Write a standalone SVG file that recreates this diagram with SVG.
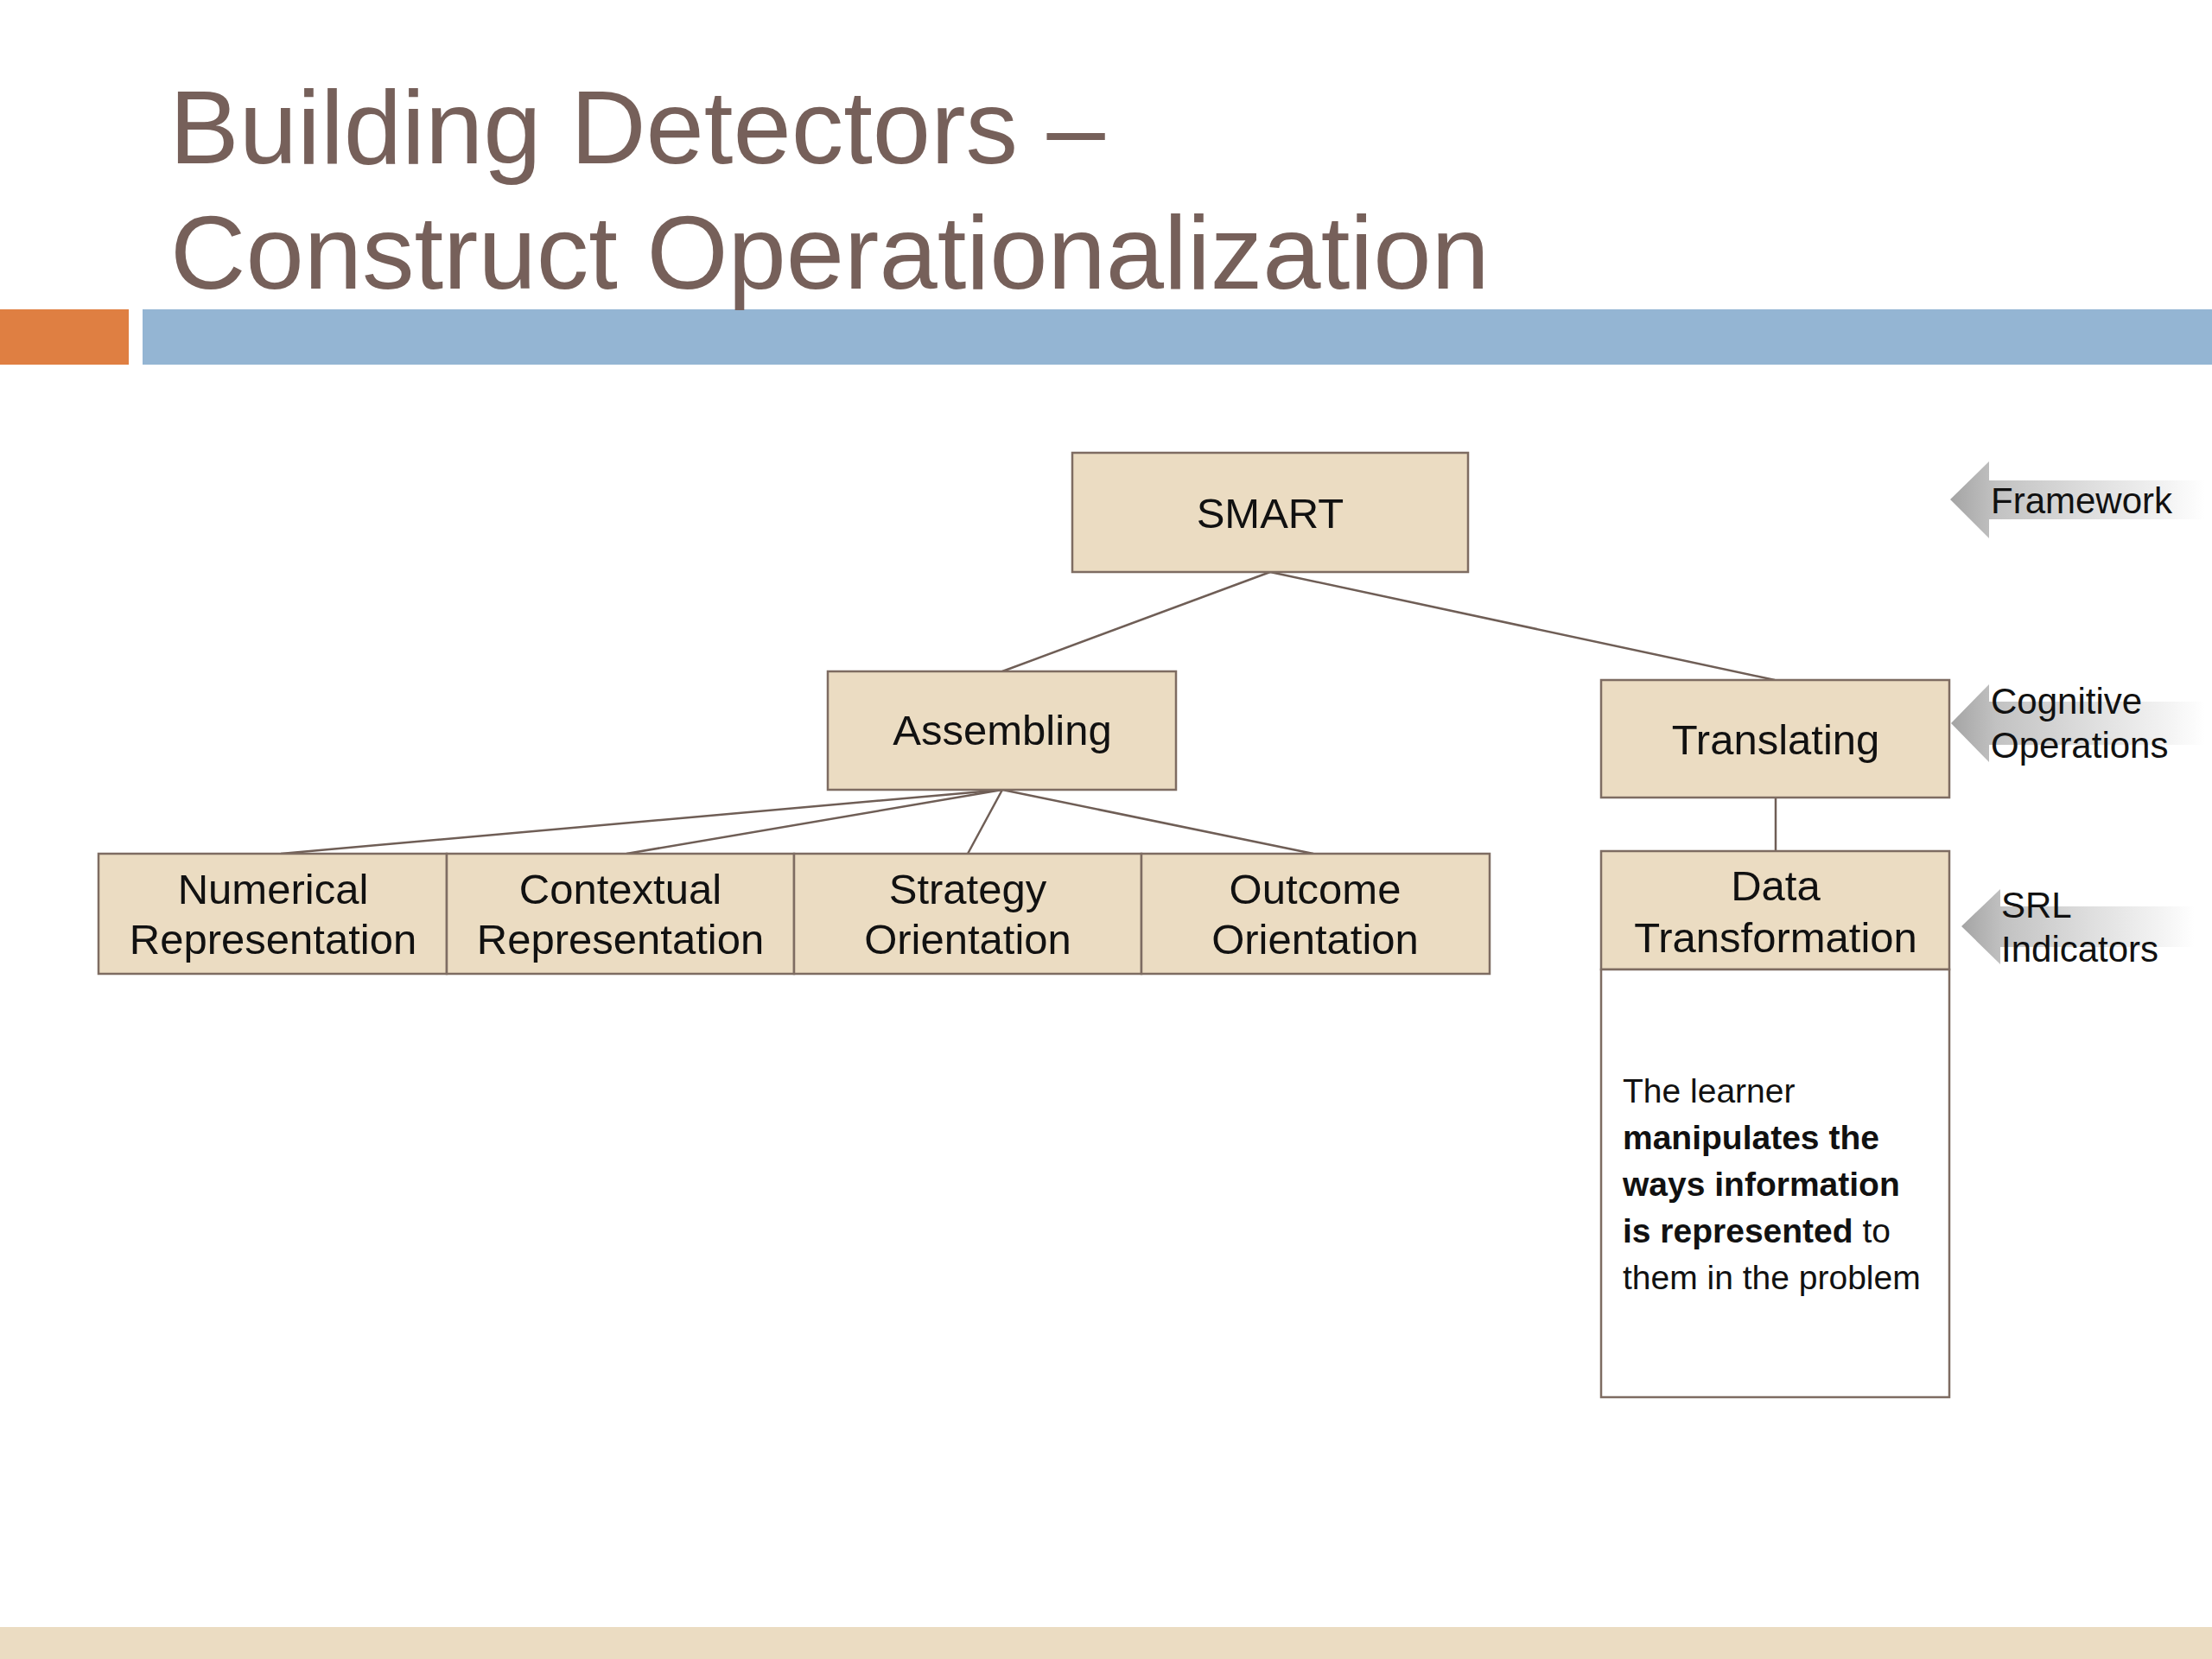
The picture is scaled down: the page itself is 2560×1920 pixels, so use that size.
<svg xmlns="http://www.w3.org/2000/svg" width="2560" height="1920" viewBox="0 0 2560 1920">
<defs>
<style>
.title{font-family:"Liberation Sans",Arial,sans-serif;font-size:121px;fill:#76605A}
.node rect{fill:#EBDCC2;stroke:#7E6C62;stroke-width:2.5}
.lbl{font-family:"Liberation Sans",Arial,sans-serif;font-size:49px;fill:#111;text-anchor:middle}
.side{font-family:"Liberation Sans",Arial,sans-serif;font-size:42px;fill:#111}
.desc{font-family:"Liberation Sans",Arial,sans-serif;font-size:39px;fill:#111}
.conn line{stroke:#6F5E56;stroke-width:2.5}
</style>
<linearGradient id="arr" x1="0" y1="0" x2="1" y2="0">
<stop offset="0" stop-color="#A4A4A4"/>
<stop offset="0.18" stop-color="#C2C2C2"/>
<stop offset="0.55" stop-color="#DEDEDE"/>
<stop offset="0.85" stop-color="#F3F3F3"/>
<stop offset="1" stop-color="#FFFFFF"/>
</linearGradient>
</defs>
<rect width="2560" height="1920" fill="#FFFFFF"/>
<rect x="0" y="358" width="149" height="64" fill="#DF7F42"/>
<rect x="165" y="358" width="2395" height="64" fill="#94B5D3"/>
<rect x="0" y="1883" width="2560" height="37" fill="#EBDCC2"/>
<text class="title" x="196" y="189">Building Detectors –</text>
<text class="title" x="197" y="334">Construct Operationalization</text>

<g id="connectors" class="conn">
<line x1="1470" y1="662" x2="1160" y2="777"/>
<line x1="1470" y1="662" x2="2054" y2="787"/>
<line x1="1160" y1="914" x2="325" y2="988"/>
<line x1="1160" y1="914" x2="725" y2="988"/>
<line x1="1160" y1="914" x2="1120" y2="988"/>
<line x1="1160" y1="914" x2="1520" y2="988"/>
<line x1="2055" y1="923" x2="2055" y2="985"/>
</g>

<g id="smart" class="node"><rect x="1241" y="524" width="458" height="138"/><text class="lbl" x="1470" y="611">SMART</text></g>
<g id="assembling" class="node"><rect x="958" y="777" width="403" height="137"/><text class="lbl" x="1160" y="862">Assembling</text></g>
<g id="translating" class="node"><rect x="1853" y="787" width="403" height="136"/><text class="lbl" x="2055" y="873">Translating</text></g>
<g id="numerical" class="node"><rect x="114" y="988" width="403" height="139"/><text class="lbl" x="316" y="1046">Numerical</text><text class="lbl" x="316" y="1104">Representation</text></g>
<g id="contextual" class="node"><rect x="517" y="988" width="402" height="139"/><text class="lbl" x="718" y="1046">Contextual</text><text class="lbl" x="718" y="1104">Representation</text></g>
<g id="strategy" class="node"><rect x="919" y="988" width="402" height="139"/><text class="lbl" x="1120" y="1046">Strategy</text><text class="lbl" x="1120" y="1104">Orientation</text></g>
<g id="outcome" class="node"><rect x="1321" y="988" width="403" height="139"/><text class="lbl" x="1522" y="1046">Outcome</text><text class="lbl" x="1522" y="1104">Orientation</text></g>
<g id="datatransformation" class="node"><rect x="1853" y="985" width="403" height="137"/><text class="lbl" x="2055" y="1042">Data</text><text class="lbl" x="2055" y="1102">Transformation</text></g>
<g id="description"><rect x="1853" y="1122" width="403" height="495" fill="#FFFFFF" stroke="#7E6C62" stroke-width="2.5"/>
<text class="desc" x="1878" y="1276">The learner</text>
<text class="desc" x="1878" y="1330" font-weight="bold">manipulates the</text>
<text class="desc" x="1878" y="1384" font-weight="bold">ways information</text>
<text class="desc" x="1878" y="1438"><tspan font-weight="bold">is represented</tspan> to</text>
<text class="desc" x="1878" y="1492">them in the problem</text>
</g>

<g id="framework"><path d="M2257,578 L2302,534 L2302,556 L2552,556 L2552,601 L2302,601 L2302,623 Z" fill="url(#arr)"/><text class="side" x="2304" y="594">Framework</text></g>
<g id="cognitive"><path d="M2258,837 L2302,792 L2302,812 L2552,812 L2552,862 L2302,862 L2302,882 Z" fill="url(#arr)"/><text class="side" x="2304" y="826">Cognitive</text><text class="side" x="2304" y="877">Operations</text></g>
<g id="srl"><path d="M2270,1072 L2315,1029 L2315,1049 L2540,1049 L2540,1096 L2315,1096 L2315,1116 Z" fill="url(#arr)"/><text class="side" x="2316" y="1062">SRL</text><text class="side" x="2316" y="1113">Indicators</text></g>
</svg>
